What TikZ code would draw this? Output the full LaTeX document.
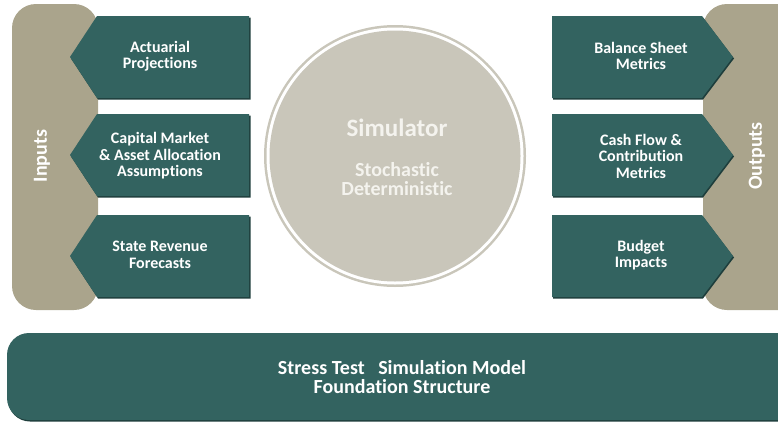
\documentclass[tikz,border=0pt]{standalone}
\usepackage{fontspec}
\setmainfont{Carlito}[Ligatures={NoCommon}]
\definecolor{teal}{RGB}{51,99,96}
\definecolor{tealdark}{RGB}{30,62,60}
\definecolor{tanbar}{RGB}{170,164,140}
\definecolor{simfill}{RGB}{201,198,186}
\definecolor{simtext}{RGB}{244,243,238}
\begin{document}
\begin{tikzpicture}[x=1pt,y=-1pt]
  \tikzset{
    boxtext/.style={text=white,font=\bfseries\fontsize{16}{16.5}\selectfont,align=center},
    sidetext/.style={text=white,font=\bfseries\fontsize{20}{22}\selectfont,rotate=90},
    inbox/.style={fill=teal},
    shade/.style={fill=tealdark},
  }
  \useasboundingbox (0,0) rectangle (778,423);
  \clip (0,0) rectangle (778,423);
  % side bars
  \fill[tanbar,rounded corners=24] (12,4) rectangle (98,310);
  \fill[tanbar,rounded corners=24] (703,4) rectangle (820,310);
  \node[sidetext] (inputs) at (42,156) {Inputs};
  \node[sidetext] (outputs) at (757,156) {Outputs};
  % input arrows
  \foreach \t/\b in {16/98,114/196,215/297}{
    \fill[shade] (98,\t+1.5) -- (250.5,\t+1.5) -- (250.5,\b+1.5) -- (98,\b+1.5) -- (71,{(\t+\b)/2+1.5}) -- cycle;
    \fill[inbox] (97,\t) -- (249,\t) -- (249,\b) -- (97,\b) -- (70,{(\t+\b)/2}) -- cycle;
  }
  % output arrows
  \foreach \t/\b in {16/98,114/196,215/297}{
    \fill[shade] (553,\t+1.5) -- (703,\t+1.5) -- (734,{(\t+\b)/2+1.5}) -- (703,\b+1.5) -- (553,\b+1.5) -- cycle;
    \fill[inbox] (552,\t) -- (702,\t) -- (733,{(\t+\b)/2}) -- (702,\b) -- (552,\b) -- cycle;
  }
  \node[boxtext] (act) at (160,56) {Actuarial\\Projections};
  \node[boxtext] (cap) at (160,156) {Capital Market\\\& Asset Allocation\\Assumptions};
  \node[boxtext] (rev) at (160,255) {State Revenue\\Forecasts};
  \node[boxtext] (bal) at (641,56) {Balance Sheet\\Metrics};
  \node[boxtext] (cash) at (641,156) {Cash Flow \&\\Contribution\\Metrics};
  \node[boxtext] (bud) at (641,255) {Budget\\Impacts};
  % simulator
  \fill[simfill] (395,156) circle (131);
  \fill[white] (395,156) circle (128.5);
  \fill[simfill] (395,156) circle (125.5);
  \node[text=simtext,font=\bfseries\fontsize{25}{28}\selectfont] (sim) at (397,128) {Simulator};
  \node[text=simtext,font=\bfseries\fontsize{20}{19}\selectfont,align=center] (kind) at (397,179) {Stochastic\\Deterministic};
  % foundation
  \fill[tealdark,rounded corners=22] (8,334.5) rectangle (800,421.5);
  \fill[teal,rounded corners=22] (7,333) rectangle (800,420);
  \node[boxtext,font=\bfseries\fontsize{20}{19}\selectfont] (base) at (402,377) {Stress Test\ \ \ Simulation Model\\Foundation Structure};
\end{tikzpicture}
\end{document}
